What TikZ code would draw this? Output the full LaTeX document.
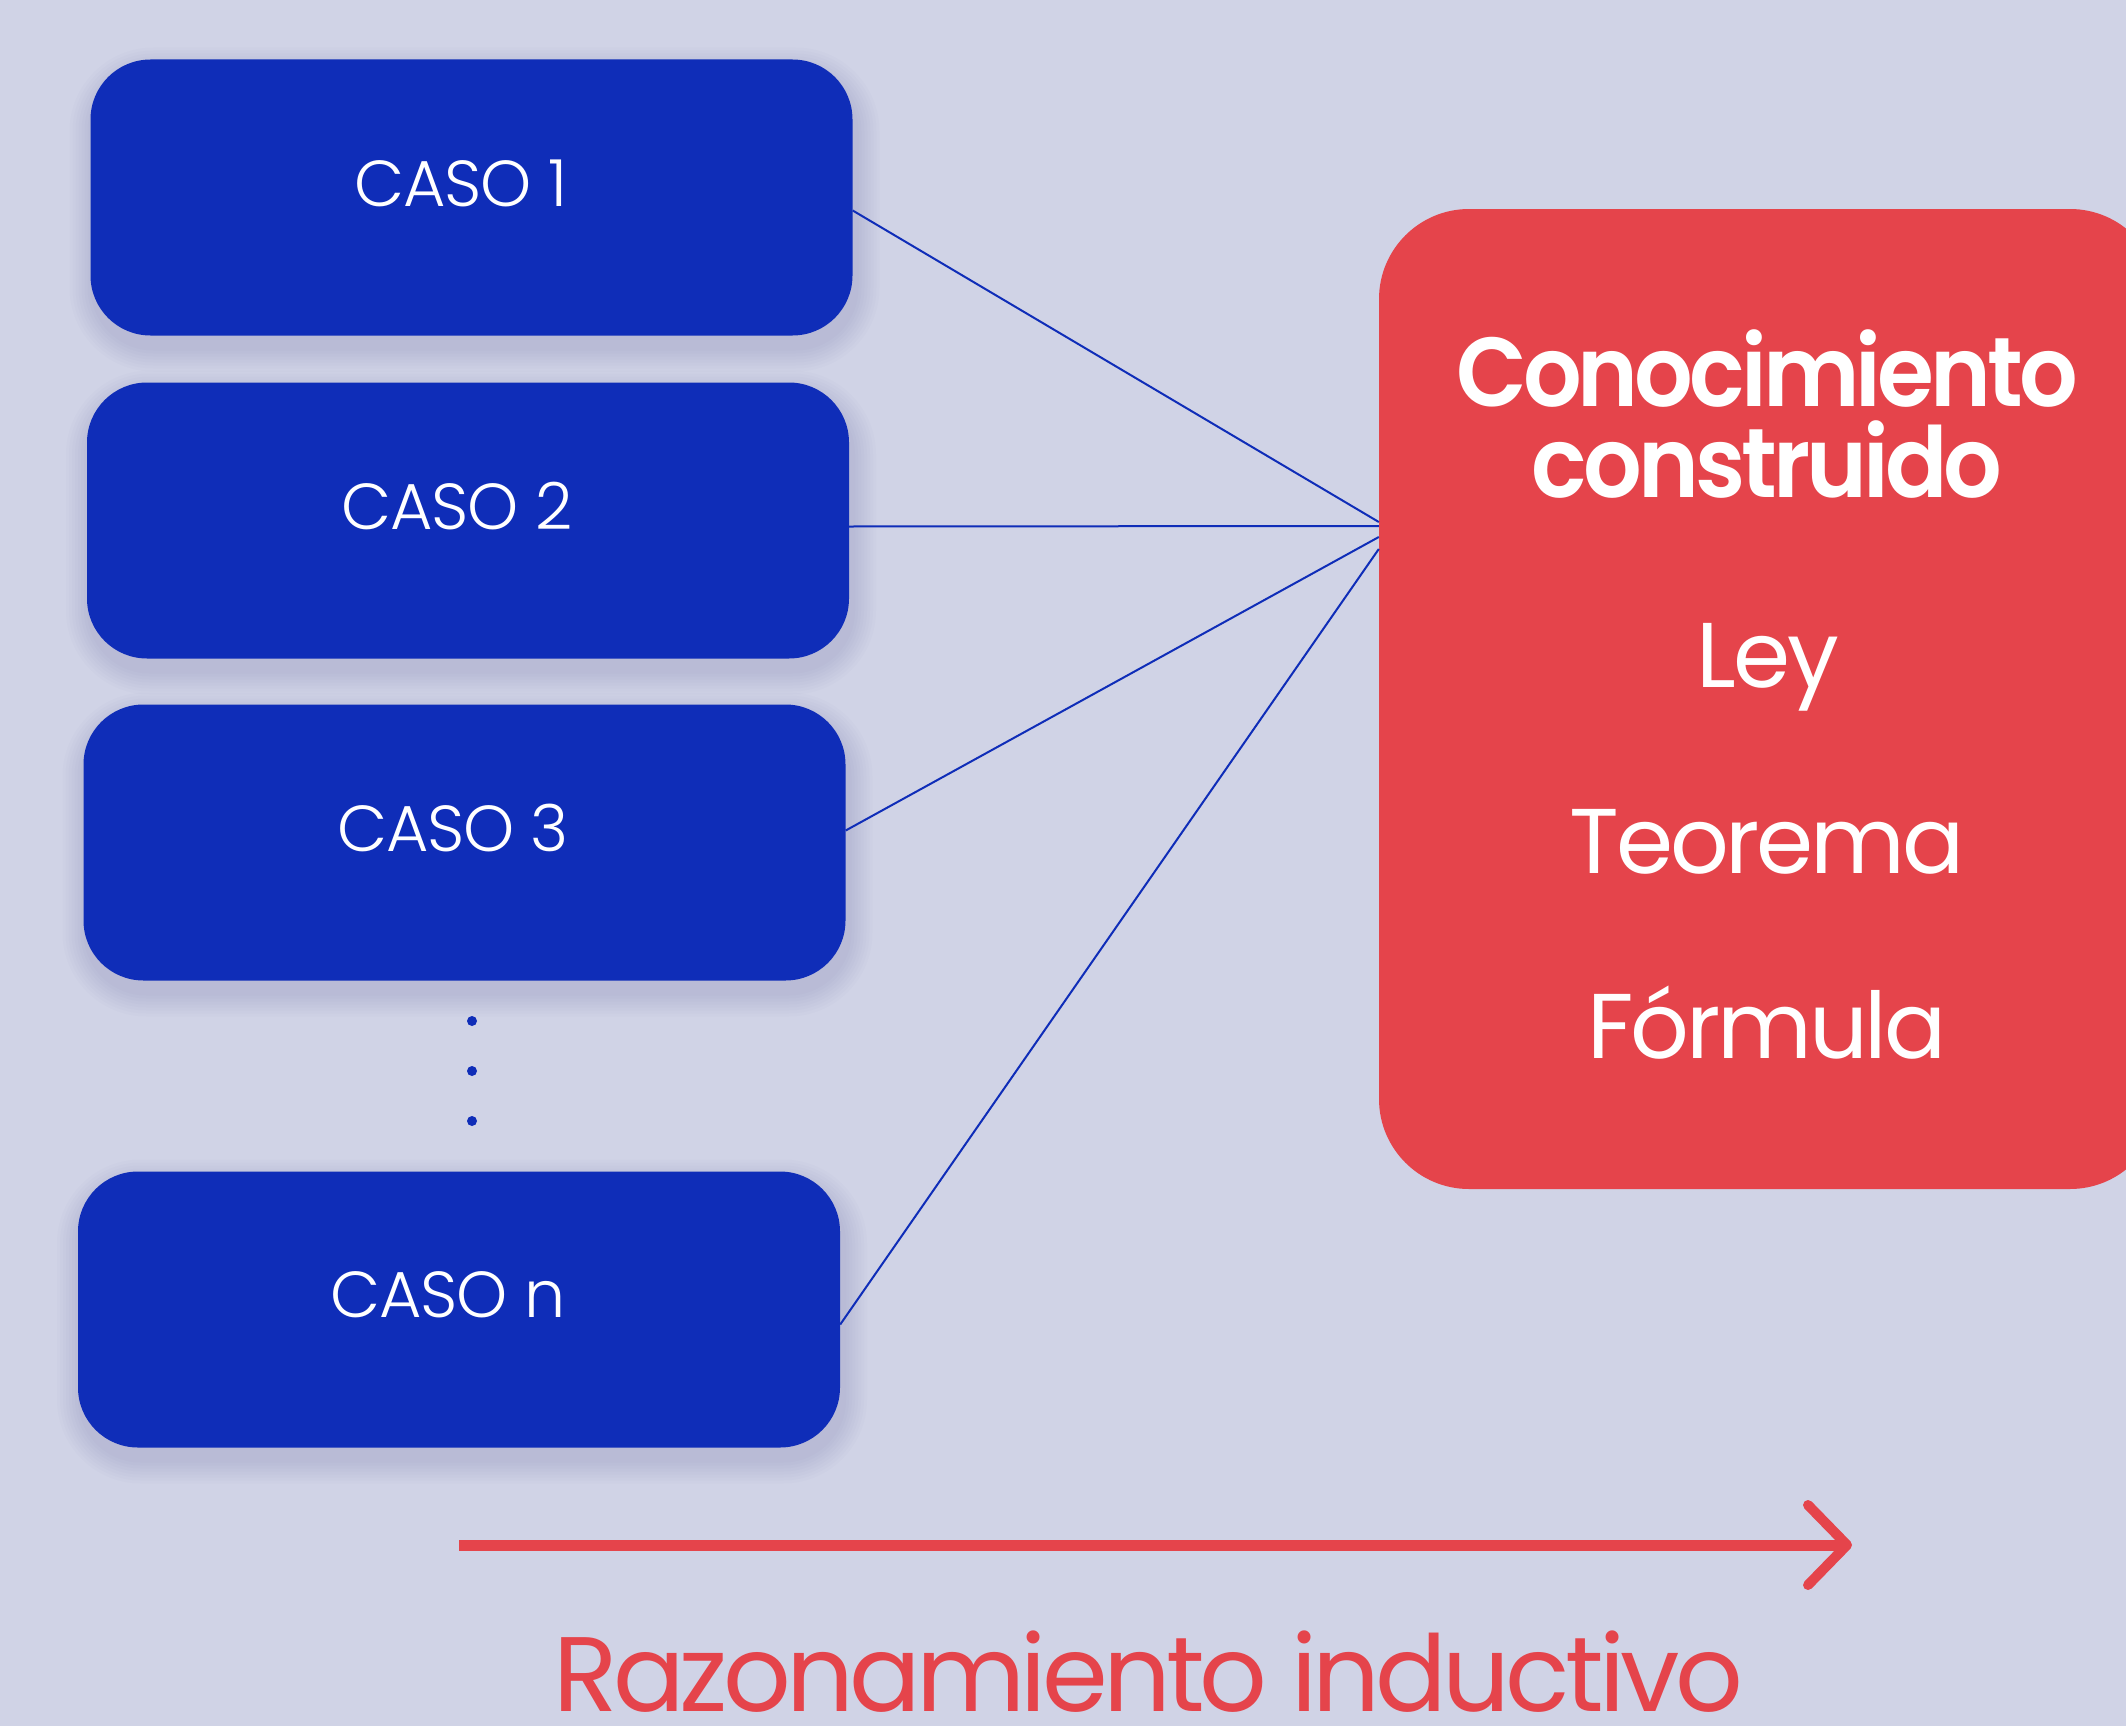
\documentclass[tikz,border=0pt]{standalone}
\usepackage{fontspec}
\setmainfont{Poppins}
\newfontfamily\caselight{Poppins Light}[LetterSpace=-2]
\newfontfamily\itemreg{Poppins}[LetterSpace=-3.5]
\newfontfamily\labreg{Poppins}[LetterSpace=-4.5]
\newfontfamily\titlesemi{Poppins SemiBold}[LetterSpace=-4,FakeStretch=0.94]
\definecolor{bg}{RGB}{208,211,230}
\definecolor{cblue}{RGB}{15,45,184}
\definecolor{cred}{RGB}{229,68,75}
\definecolor{shade}{RGB}{60,60,110}
\begin{document}
\begin{tikzpicture}[x=1pt,y=-1pt,
  casebox/.style={fill=cblue, rounded corners=60pt, minimum width=762pt, minimum height=276pt, inner sep=0pt},
  casetext/.style={text=white, font=\caselight\fontsize{65}{70}\selectfont, anchor=base, inner sep=0pt},
  bigbox/.style={fill=cred, rounded corners=90pt, minimum width=781pt, minimum height=980pt, inner sep=0pt},
  titletext/.style={text=white, font=\titlesemi\fontsize{98}{100}\selectfont, anchor=base, inner sep=0pt},
  itemtext/.style={text=white, font=\itemreg\fontsize{92}{96}\selectfont, anchor=base, inner sep=0pt},
  link/.style={draw=cblue, line width=2pt},
  dotmark/.style={circle, fill=cblue, minimum size=10pt, inner sep=0pt},
  flow/.style={draw=cred, line width=11pt},
  flowhead/.style={draw=cred, line width=10pt, line cap=round, line join=round},
  shadowlayer/.style={fill=shade, fill opacity=0.016}
]
\fill[bg] (0,0) rectangle (2126,1726);
\clip (0,0) rectangle (2126,1726);
\useasboundingbox (0,0) rectangle (2126,1726);

% soft shadows under the case boxes
\foreach \cx/\cy in {471.5/197.5, 468/520.5, 464.5/842.5, 459/1309.5}{
  \foreach \i in {1,...,8}{
    \fill[shadowlayer, rounded corners={60pt+3pt*\i}]
      ({\cx-381-3*\i+3},{\cy-138-3*\i+12}) rectangle ({\cx+381+3*\i+3},{\cy+138+3*\i+12});
  }
}

% case boxes
\node[casebox] (b1) at (471.5,197.5) {};
\node[casebox] (b2) at (468,520.5) {};
\node[casebox] (b3) at (464.5,842.5) {};
\node[casebox] (bn) at (459,1309.5) {};

\node[casetext] (t1) at (461,206) {CASO 1};
\node[casetext] (t2) at (457,529) {CASO 2};
\node[casetext] (t3) at (453,851) {CASO 3};
\node[casetext] (tn) at (448,1317) {CASO n};

% dots
\node[dotmark] (d1) at (472,1021) {};
\node[dotmark] (d2) at (472,1071) {};
\node[dotmark] (d3) at (472,1121) {};

% result box
\node[bigbox] (k) at (1769.5,699) {};
\node[titletext] (k1) at (1767,406) {Conocimiento};
\node[titletext] (k2) at (1767,497) {construido};
\node[itemtext] (k3) at (1768,687) {Ley};
\node[itemtext] (k4) at (1767,873) {Teorema};
\node[itemtext] (k5) at (1767,1058) {Fórmula};

% connectors
\coordinate (e1) at ([yshift=177pt]k.west);
\coordinate (e2) at ([yshift=173pt]k.west);
\coordinate (e3) at ([yshift=162pt]k.west);
\coordinate (en) at ([yshift=150pt]k.west);
\draw[link] ([yshift=-13pt]b1.east) -- (e1);
\draw[link] ([yshift=-6pt]b2.east) -- (e2);
\draw[link] ([yshift=12pt]b3.east) -- (e3);
\draw[link] ([yshift=-15pt]bn.east) -- (en);

% arrow
\coordinate (a0) at (459,1545);
\coordinate (a1) at (1842,1545);
\coordinate (h1) at (1808,1505);
\coordinate (h2) at (1847,1545);
\coordinate (h3) at (1808,1585);
\draw[flow] (a0) -- (a1);
\draw[flowhead] (h1) -- (h2) -- (h3);
\node[text=cred, font=\labreg\fontsize{106}{110}\selectfont, anchor=base, inner sep=0pt] (lab) at (1148,1711) {Razonamiento inductivo};
\end{tikzpicture}
\end{document}
